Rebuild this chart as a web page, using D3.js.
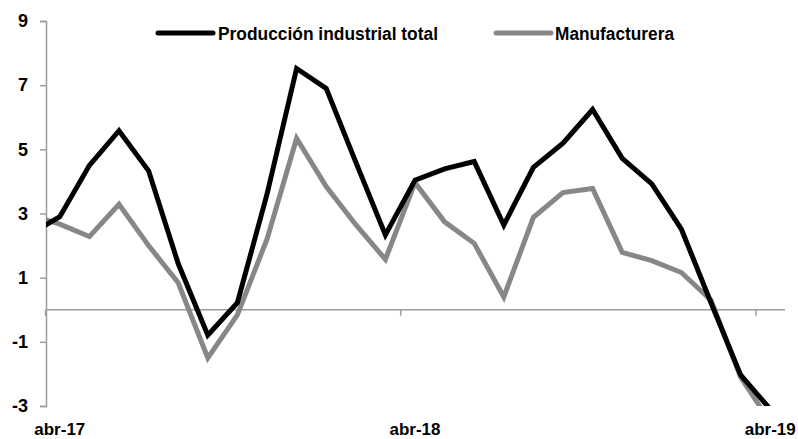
<!DOCTYPE html>
<html>
<head>
<meta charset="utf-8">
<script src="https://cdn.jsdelivr.net/npm/d3@7"></script>
<style>
  html, body { margin: 0; padding: 0; background: #fff; }
  svg { display: block; }
  text { font-family: "Liberation Sans Narrow", "Arial Narrow", "Liberation Sans", Arial, sans-serif; font-weight: bold; fill: #000; }
</style>
</head>
<body>
<svg id="chart" width="798" height="439"></svg>
<script>
// ---- data ----
const months = ["mar-17","abr-17","may-17","jun-17","jul-17","ago-17","sep-17","oct-17","nov-17","dic-17",
  "ene-18","feb-18","mar-18","abr-18","may-18","jun-18","jul-18","ago-18","sep-18","oct-18","nov-18","dic-18",
  "ene-19","feb-19","mar-19","abr-19"];
const totalIndustrial = [2.35, 2.9, 4.5, 5.58, 4.33, 1.44, -0.79, 0.22, 3.6, 7.52,
  6.9, 4.6, 2.33, 4.04, 4.39, 4.62, 2.64, 4.44, 5.19, 6.24, 4.72, 3.92,
  2.51, 0.22, -2.03, -3.1];
const manufacturera = [2.95, 2.67, 2.28, 3.29, 2.0, 0.84, -1.5, -0.16, 2.2, 5.34,
  3.84, 2.65, 1.57, 3.96, 2.74, 2.07, 0.40, 2.88, 3.65, 3.78, 1.79, 1.53,
  1.16, 0.3, -2.1, -3.5];
const seriesNames = ["Producción industrial total", "Manufacturera"];
const yTicks = [-3, -1, 1, 3, 5, 7, 9];
const xLabels = ["abr-17", "abr-18", "abr-19"];

// ---- layout ----
const svg = d3.select("#chart");
const plotL = 45, plotR = 785, plotT = 21, plotB = 406;
const step = (plotR - plotL) / (months.length - 1);
const x = d3.scaleBand().domain(months).range([plotL - step, plotR]).padding(0);
const y = d3.scaleLinear().domain([-3, 9]).range([plotB, plotT]);
const cx = m => x(m) + x.bandwidth() / 2;
const axisColor = "#9c9c9c";

svg.append("defs").append("clipPath").attr("id", "plotclip")
  .append("rect").attr("x", plotL + 1).attr("y", plotT - 5)
  .attr("width", plotR - plotL).attr("height", plotB - plotT + 5);

// y axis
const yAxis = d3.axisLeft(y).tickValues(yTicks).tickSize(6).tickPadding(12).tickFormat(d => String(d));
const gy = svg.append("g").attr("transform", `translate(${plotL + 1},0)`).call(yAxis);
gy.select(".domain").attr("stroke", axisColor).attr("stroke-width", 1.5);
gy.selectAll(".tick line").attr("stroke", axisColor).attr("stroke-width", 1.5);
gy.selectAll(".tick text").style("font-size", "18px").attr("fill", "#000");

// zero line (x axis)
svg.append("line").attr("x1", plotL + 1).attr("x2", plotR)
  .attr("y1", y(0)).attr("y2", y(0)).attr("stroke", axisColor).attr("stroke-width", 1.5);
// x ticks at year boundaries
svg.selectAll(".xtick").data(xLabels).enter().append("line")
  .attr("x1", d => x(d) + 0.5).attr("x2", d => x(d) + 0.5)
  .attr("y1", y(0)).attr("y2", y(0) + 6)
  .attr("stroke", axisColor).attr("stroke-width", 1.5);
// x labels
svg.selectAll(".xlab").data(xLabels).enter().append("text")
  .attr("x", d => cx(d)).attr("y", 435).attr("text-anchor", "middle")
  .attr("textLength", 51).attr("lengthAdjust", "spacingAndGlyphs")
  .style("font-size", "17px").text(d => d);

// lines
const line = d3.line().x((d, i) => cx(months[i])).y(d => y(d));
const g = svg.append("g").attr("clip-path", "url(#plotclip)");
g.append("path").datum(manufacturera).attr("d", line)
  .attr("fill", "none").attr("stroke", "#878787").attr("stroke-width", 5).attr("stroke-linejoin", "miter");
g.append("path").datum(totalIndustrial).attr("d", line)
  .attr("fill", "none").attr("stroke", "#000").attr("stroke-width", 5).attr("stroke-linejoin", "miter");

// legend
const legend = [
  {name: seriesNames[0], color: "#000", x1: 158, x2: 213, tx: 218, w: 220},
  {name: seriesNames[1], color: "#878787", x1: 496, x2: 551, tx: 555, w: 119}
];
const lg = svg.append("g");
legend.forEach(l => {
  lg.append("line").attr("x1", l.x1).attr("x2", l.x2).attr("y1", 33).attr("y2", 33)
    .attr("stroke", l.color).attr("stroke-width", 5).attr("stroke-linecap", "round");
  lg.append("text").attr("x", l.tx).attr("y", 39.5).style("font-size", "18px")
    .attr("textLength", l.w).attr("lengthAdjust", "spacingAndGlyphs").text(l.name);
});
</script>
</body>
</html>
